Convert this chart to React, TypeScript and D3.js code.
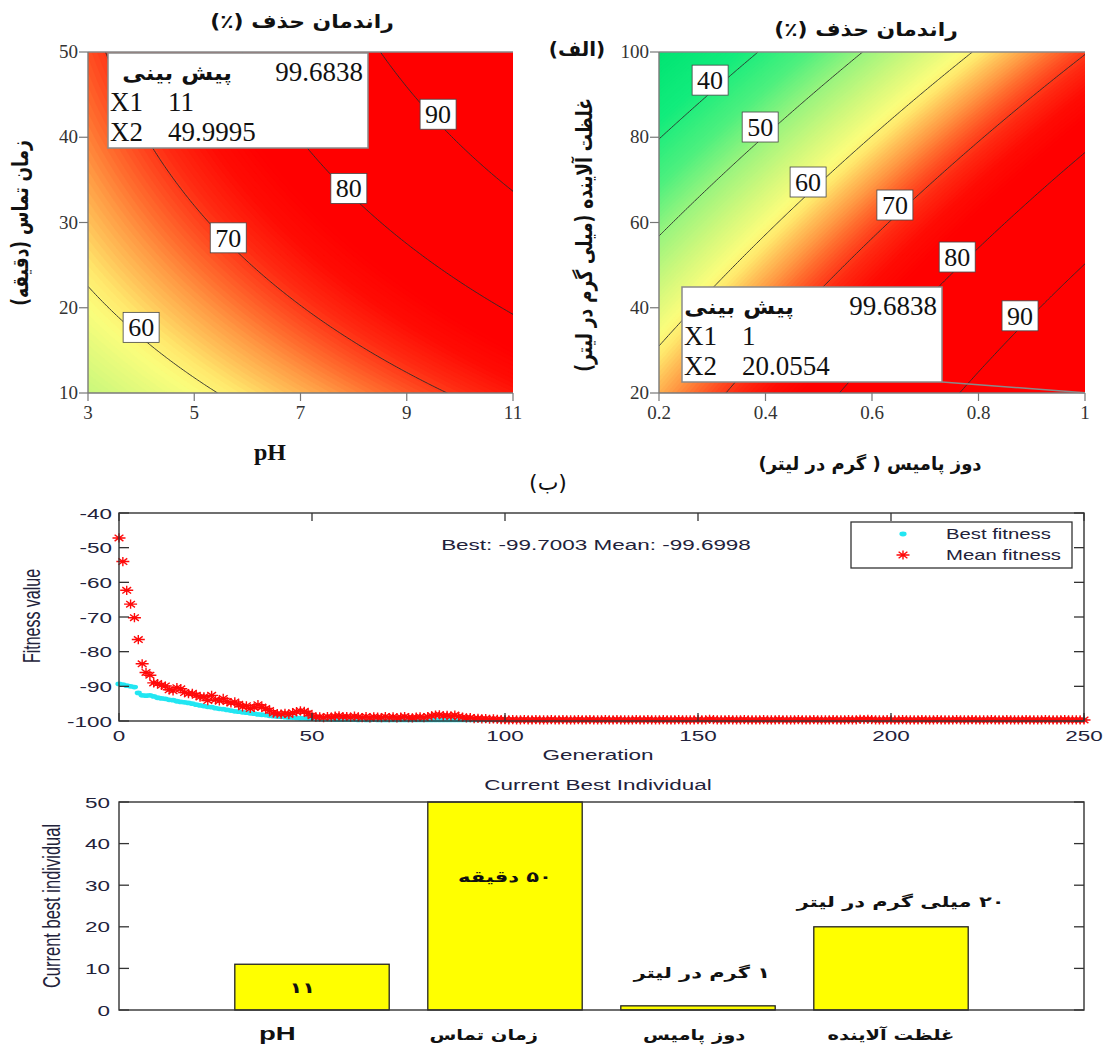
import React from "react";
import * as d3 from "d3";

// ---------------- DATA ----------------
// (الف) left: removal (%): [pH, contact time (min), removal %]
const phTimeContourPoints: number[][] = [
  [3.0, 22.5, 60], [4.0, 16.2, 60], [5.2, 10.0, 60],
  [4.2, 38.7, 70], [5.6, 28.3, 70], [7.05, 21.7, 70], [8.3, 16.2, 70], [9.45, 10.0, 70],
  [7.0, 38.7, 80], [7.9, 34.0, 80], [8.95, 27.1, 80], [10.2, 21.7, 80], [11.0, 19.3, 80],
  [8.3, 50.0, 90], [9.6, 43.0, 90], [11.0, 34.2, 90],
  [11.0, 50.0, 99.6838],
  [3.0, 10.0, 53.5], [3.0, 30.0, 64.3], [3.0, 40.0, 66.0], [3.0, 50.0, 68.0],
];
// (الف) right: [pumice dose (g/L), pollutant conc (mg/L), removal %]
const doseConcContourPoints: number[][] = [
  [0.2, 79.8, 40], [0.283, 88.7, 40], [0.385, 100, 40],
  [0.2, 57.0, 50], [0.475, 88.7, 50], [0.581, 100, 50],
  [0.2, 30.9, 60], [0.353, 51.2, 60], [0.67, 87.2, 60], [0.787, 100, 60],
  [0.324, 20, 70], [0.565, 51.2, 70], [1.0, 99.5, 70],
  [0.54, 20, 80], [0.76, 50.5, 80], [1.0, 76.3, 80],
  [0.767, 20, 90], [0.878, 36.5, 90], [1.0, 49.6, 90],
  [1.0, 20.0554, 99.6838],
];
const contourLevels = [40, 50, 60, 70, 80, 90];
const phTimeLabelSpots: number[][] = [[4.0, 17.7, 60], [5.64, 28.2, 70], [7.91, 34.0, 80], [9.59, 42.7, 90]];
const doseConcLabelSpots: number[][] = [[0.296, 93.4, 40], [0.39, 82.4, 50], [0.48, 69.5, 60], [0.643, 64.1, 70], [0.76, 51.9, 80], [0.878, 38.1, 90]];
const phTicks = [3, 5, 7, 9, 11];
const timeTicks = [10, 20, 30, 40, 50];
const doseTicks = [0.2, 0.4, 0.6, 0.8, 1];
const concTicks = [20, 40, 60, 80, 100];
const predictionLeft = ["99.6838", "11", "49.9995"];
const predictionRight = ["99.6838", "1", "20.0554"];

const colorStopValues = [30, 38, 45, 50, 55, 59, 61, 63, 65, 67, 69, 71, 74, 77, 100];
const colorStopColors = ["#00e472", "#12ec7c", "#4ef07e", "#98f47e", "#d0f87c", "#fafd7c", "#ffe86c", "#ffc058", "#ff9a44", "#ff7030", "#ff4a20", "#ff2a12", "#ff0c04", "#ff0000", "#ff0000"];

// (ب) GA run
const meanFitness = [
  -47.2, -54.0, -62.3, -66.3, -70.2, -76.5, -83.5, -86.0, -86.8, -89.0,
  -89.2, -89.7, -89.9, -91.0, -91.3, -90.4, -90.7, -91.8, -92.1, -92.0,
  -92.6, -93.1, -93.0, -94.1, -92.6, -93.9, -94.2, -93.5, -94.4, -94.8,
  -94.5, -95.2, -95.9, -95.6, -96.4, -96.1, -95.3, -96.0, -96.4, -97.0,
  -97.7, -97.9, -98.0, -97.8, -98.1, -97.6, -97.3, -97.1, -97.2, -97.8,
  -98.5, -98.9, -98.8, -99.0, -98.7, -98.9, -98.6, -98.5, -98.8, -98.7,
  -98.9, -98.6, -98.8, -99.0, -98.7, -99.1, -98.8, -98.9, -99.0, -98.7,
  -99.0, -98.8, -99.1, -98.9, -98.7, -99.0, -99.1, -98.9, -98.8, -99.0,
  -98.7, -98.5, -98.3, -98.2, -98.5, -98.4, -98.6, -98.3, -98.7, -98.9,
  -99.1, -99.0, -99.3, -99.2, -99.4, -99.3, -99.5, -99.4, -99.5, -99.6,
  -99.6, -99.7, -99.6, -99.7, -99.7, -99.6, -99.7, -99.7, -99.6, -99.7,
  -99.7, -99.7, -99.6, -99.7, -99.7, -99.6, -99.7, -99.7, -99.7, -99.6,
  -99.7, -99.7, -99.6, -99.7, -99.7, -99.7, -99.6, -99.7, -99.7, -99.6,
  -99.7, -99.7, -99.7, -99.7, -99.6, -99.7, -99.7, -99.6, -99.7, -99.7,
  -99.7, -99.6, -99.7, -99.7, -99.7, -99.6, -99.7, -99.7, -99.7, -99.7,
  -99.6, -99.7, -99.7, -99.5, -99.6, -99.7, -99.7, -99.7, -99.6, -99.7,
  -99.7, -99.7, -99.6, -99.7, -99.7, -99.7, -99.7, -99.6, -99.7, -99.7,
  -99.7, -99.6, -99.7, -99.7, -99.7, -99.7, -99.6, -99.7, -99.7, -99.7,
  -99.6, -99.7, -99.7, -99.7, -99.7, -99.6, -99.7, -99.7, -99.7, -99.6,
  -99.7, -99.7, -99.5, -99.6, -99.5, -99.6, -99.7, -99.7, -99.7, -99.6,
  -99.7, -99.7, -99.7, -99.6, -99.7, -99.7, -99.7, -99.7, -99.6, -99.7,
  -99.7, -99.7, -99.6, -99.7, -99.7, -99.7, -99.7, -99.6, -99.7, -99.7,
  -99.7, -99.6, -99.7, -99.7, -99.7, -99.7, -99.6, -99.7, -99.7, -99.7,
  -99.6, -99.7, -99.7, -99.7, -99.7, -99.6, -99.7, -99.7, -99.7, -99.7,
  -99.6, -99.7, -99.7, -99.7, -99.7, -99.6, -99.7, -99.7, -99.7, -99.7,
  -99.7,
];
const bestFitness = [
  -89.3, -89.5, -89.8, -90.0, -90.2, -91.9, -92.6, -92.7, -92.6, -92.9,
  -93.3, -93.5, -93.6, -93.9, -94.0, -94.3, -94.5, -94.6, -94.8, -95.0,
  -95.3, -95.5, -95.7, -95.9, -96.0, -96.3, -96.5, -96.6, -96.8, -97.0,
  -97.2, -97.3, -97.5, -97.6, -97.8, -97.9, -98.1, -98.2, -98.3, -98.5,
  -98.6, -98.7, -98.8, -98.9, -99.0, -99.0, -99.1, -99.2, -99.2, -99.3,
  -99.3, -99.4, -99.4, -99.5, -99.5, -99.5, -99.6, -99.6, -99.6, -99.6,
  -99.6, -99.6, -99.7, -99.6, -99.7, -99.7, -99.6, -99.7, -99.7, -99.7,
  -99.7, -99.7, -99.7, -99.7, -99.7, -99.7, -99.7, -99.7, -99.7, -99.7,
  -99.7, -99.7, -99.7, -99.7, -99.7, -99.7, -99.7, -99.7, -99.7, -99.7,
  -99.7, -99.7, -99.7, -99.7, -99.7, -99.7, -99.7, -99.7, -99.7, -99.7,
  -99.7, -99.7, -99.7, -99.7, -99.7, -99.7, -99.7, -99.7, -99.7, -99.7,
  -99.7, -99.7, -99.7, -99.7, -99.7, -99.7, -99.7, -99.7, -99.7, -99.7,
  -99.7, -99.7, -99.7, -99.7, -99.7, -99.7, -99.7, -99.7, -99.7, -99.7,
  -99.7, -99.7, -99.7, -99.7, -99.7, -99.7, -99.7, -99.7, -99.7, -99.7,
  -99.7, -99.7, -99.7, -99.7, -99.7, -99.7, -99.7, -99.7, -99.7, -99.7,
  -99.7, -99.7, -99.7, -99.7, -99.7, -99.7, -99.7, -99.7, -99.7, -99.7,
  -99.7, -99.7, -99.7, -99.7, -99.7, -99.7, -99.7, -99.7, -99.7, -99.7,
  -99.7, -99.7, -99.7, -99.7, -99.7, -99.7, -99.7, -99.7, -99.7, -99.7,
  -99.7, -99.7, -99.7, -99.7, -99.7, -99.7, -99.7, -99.7, -99.7, -99.7,
  -99.7, -99.7, -99.7, -99.7, -99.7, -99.7, -99.7, -99.7, -99.7, -99.7,
  -99.7, -99.7, -99.7, -99.7, -99.7, -99.7, -99.7, -99.7, -99.7, -99.7,
  -99.7, -99.7, -99.7, -99.7, -99.7, -99.7, -99.7, -99.7, -99.7, -99.7,
  -99.7, -99.7, -99.7, -99.7, -99.7, -99.7, -99.7, -99.7, -99.7, -99.7,
  -99.7, -99.7, -99.7, -99.7, -99.7, -99.7, -99.7, -99.7, -99.7, -99.7,
  -99.7, -99.7, -99.7, -99.7, -99.7, -99.7, -99.7, -99.7, -99.7, -99.7,
  -99.7,
];
const genTicks = [0, 50, 100, 150, 200, 250];
const fitnessTicks = [-100, -90, -80, -70, -60, -50, -40];

const barCategories = ["pH", "زمان تماس", "دوز پامیس", "غلظت آلاینده"];
const barValues = [11, 50, 1, 20];
const barNotes = ["۱۱", "۵۰ دقیقه", "۱ گرم در لیتر", "۲۰ میلی گرم در لیتر"];
const barTicks = [0, 10, 20, 30, 40, 50];

// ---------------- HELPERS ----------------
const SERIF = "'Liberation Serif', 'Times New Roman', serif";
const SANS = "'Liberation Sans', Arial, sans-serif";
const FA = "'DejaVu Sans', sans-serif";
const TXT = "#22223a";

function solve(A: number[][], b: number[]) {
  const n = b.length;
  const M = A.map((r, i) => [...r, b[i]]);
  for (let c = 0; c < n; c++) {
    let p = c;
    for (let r = c + 1; r < n; r++) if (Math.abs(M[r][c]) > Math.abs(M[p][c])) p = r;
    [M[c], M[p]] = [M[p], M[c]];
    for (let r = 0; r < n; r++) {
      if (r === c) continue;
      const f = M[r][c] / M[c][c];
      for (let k = c; k <= n; k++) M[r][k] -= f * M[c][k];
    }
  }
  return M.map((r, i) => r[n] / r[i]);
}

function fitSurface(points: number[][], xd: number[], yd: number[]) {
  const cx = (xd[0] + xd[1]) / 2, hx = (xd[1] - xd[0]) / 2;
  const cy = (yd[0] + yd[1]) / 2, hy = (yd[1] - yd[0]) / 2;
  const basis = (x: number, y: number) => {
    const a = (x - cx) / hx, b = (y - cy) / hy;
    return [1, a, b, a * b, a * a, b * b];
  };
  const A = Array.from({ length: 6 }, () => Array(6).fill(0));
  const B = Array(6).fill(0);
  points.forEach(([x, y, z]) => {
    const r = basis(x, y);
    for (let i = 0; i < 6; i++) {
      B[i] += r[i] * z;
      for (let j = 0; j < 6; j++) A[i][j] += r[i] * r[j];
    }
  });
  const c = solve(A, B);
  return (x: number, y: number) => basis(x, y).reduce((s, v, i) => s + v * c[i], 0);
}

const colorScale = d3.scaleLinear<string>().domain(colorStopValues).range(colorStopColors).interpolate(d3.interpolateRgb).clamp(true);

const SText = ({ x, y, s = 1, rot = 0, children, ...rest }: any) => (
  <g transform={`translate(${x},${y}) scale(${s},1)${rot ? ` rotate(${rot})` : ""}`}>
    <text x={0} y={0} {...rest}>{children}</text>
  </g>
);

// ---------------- CONTOUR PANEL ----------------
function ContourPanel({ cfg }: any) {
  const { id, x0, x1, yTop, yBot, xDomain, yDomain, points, xTicks, yTicks, labels, info, infoBox } = cfg;
  const sx = d3.scaleLinear().domain(xDomain).range([x0, x1]);
  const sy = d3.scaleLinear().domain(yDomain).range([yBot, yTop]);
  const surface = fitSurface(points, xDomain, yDomain);
  const nx = 180, ny = 150;
  const dx = (xDomain[1] - xDomain[0]) / (nx - 1), dy = (yDomain[1] - yDomain[0]) / (ny - 1);
  const values: number[] = new Array(nx * ny);
  for (let j = 0; j < ny; j++) for (let i = 0; i < nx; i++) values[i + j * nx] = surface(xDomain[0] + i * dx, yDomain[0] + j * dy);
  const [vmin, vmax] = d3.extent(values) as [number, number];
  const step = 0.4;
  const thr = d3.range(Math.floor(vmin) - 1, vmax, step);
  const bands = d3.contours().size([nx, ny]).thresholds(thr)(values);
  const lines = d3.contours().size([nx, ny]).thresholds(contourLevels)(values);
  const proj = d3.geoTransform({
    point: function (px: number, py: number) {
      (this as any).stream.point(sx(xDomain[0] + (px - 0.5) * dx), sy(yDomain[0] + (py - 0.5) * dy));
    },
  });
  const path = d3.geoPath(proj as any);
  const bx = infoBox.x, by = infoBox.y, bw = infoBox.w, bh = infoBox.h;
  return (
    <g>
      <defs>
        <clipPath id={`${id}clip`}><rect x={x0} y={yTop} width={x1 - x0} height={yBot - yTop} /></clipPath>
      </defs>
      <g clipPath={`url(#${id}clip)`}>
        {bands.map((b, k) => (
          <path key={k} d={path(b as any) || ""} fill={colorScale(b.value + step / 2)} stroke={colorScale(b.value + step / 2)} strokeWidth={0.4} />
        ))}
        {lines.map((l, k) => (
          <path key={k} d={path(l as any) || ""} fill="none" stroke="#2a2a2a" strokeWidth={0.9} />
        ))}
      </g>
      {/* axes */}
      <line x1={x0} x2={x1} y1={yTop} y2={yTop} stroke="#8a8a8a" strokeWidth={1.4} />
      <line x1={x0} x2={x0} y1={yTop} y2={yBot} stroke="#7a7a7a" strokeWidth={1.4} />
      <line x1={x0} x2={x1} y1={yBot} y2={yBot} stroke="#7a7a7a" strokeWidth={1.4} />
      {yTicks.map((t: number) => (
        <g key={t}>
          <line x1={x0 - 9} x2={x0} y1={sy(t)} y2={sy(t)} stroke="#777" strokeWidth={1.2} />
          <text x={x0 - 10} y={sy(t) + 6} textAnchor="end" fontFamily={SERIF} fontSize={19} fill="#333">{t}</text>
        </g>
      ))}
      {xTicks.map((t: number) => (
        <g key={t}>
          <line x1={sx(t)} x2={sx(t)} y1={yBot} y2={yBot + 8} stroke="#777" strokeWidth={1.2} />
          <text x={sx(t)} y={yBot + 26} textAnchor="middle" fontFamily={SERIF} fontSize={19} fill="#333">{String(t)}</text>
        </g>
      ))}
      {/* contour labels */}
      {labels.map(([lx, ly, lv]: number[]) => (
        <g key={lv}>
          <rect x={sx(lx) - 18} y={sy(ly) - 15} width={36} height={30} fill="#fff" stroke="#444" strokeWidth={0.8} />
          <text x={sx(lx)} y={sy(ly) + 9} textAnchor="middle" fontFamily={SERIF} fontSize={26} fill="#111">{lv}</text>
        </g>
      ))}
      {/* prediction box */}
      {infoBox.pointer && (
        <line x1={bx + bw} y1={by + bh} x2={sx(infoBox.pointer[0])} y2={sy(infoBox.pointer[1])} stroke="#8a8a8a" strokeWidth={1.4} />
      )}
      <rect x={bx} y={by} width={bw} height={bh} fill="#fff" stroke="#8a8a8a" strokeWidth={1.5} />
      <SText x={bx + infoBox.faEnd} y={by + 27} s={1.1} textAnchor="end" fontFamily={FA} fontWeight="bold" fontSize={21} fill="#111">پیش بینی</SText>
      <text x={bx + bw - 5} y={by + 28} textAnchor="end" fontFamily={SERIF} fontSize={27} fill="#111">{info[0]}</text>
      <text x={bx + 2} y={by + 58} fontFamily={SERIF} fontSize={27} fill="#111">X1</text>
      <text x={bx + 60} y={by + 58} fontFamily={SERIF} fontSize={27} fill="#111">{info[1]}</text>
      <text x={bx + 2} y={by + 88} fontFamily={SERIF} fontSize={27} fill="#111">X2</text>
      <text x={bx + 60} y={by + 88} fontFamily={SERIF} fontSize={27} fill="#111">{info[2]}</text>
    </g>
  );
}

// ---------------- FITNESS PANEL ----------------
function FitnessPanel() {
  const L = 119, R = 1084, T = 513, B = 721;
  const x = d3.scaleLinear().domain([0, 250]).range([L, R]);
  const y = d3.scaleLinear().domain([-100, -40]).range([B, T]);
  const star = "M-6.5,0H6.5M0,-4.6V4.6M-4.4,-3.2L4.4,3.2M-4.4,3.2L4.4,-3.2";
  const ST = 1.45;
  return (
    <g>
      <defs>
        <clipPath id="fitclip"><rect x={L - 8} y={T} width={R - L + 16} height={B - T + 6} /></clipPath>
      </defs>
      <rect x={L} y={T} width={R - L} height={B - T} fill="#fff" />
      <g clipPath="url(#fitclip)">
        {bestFitness.map((v, i) => (
          <ellipse key={i} cx={x(i)} cy={y(v)} rx={3.6} ry={2.4} fill="#22e6f2" />
        ))}
        {meanFitness.map((v, i) => (
          <path key={i} d={star} transform={`translate(${x(i)},${y(v)})`} stroke="#ff0a0a" strokeWidth={1.4} fill="none" />
        ))}
      </g>
      <rect x={L} y={T} width={R - L} height={B - T} fill="none" stroke="#333" strokeWidth={1.4} />
      {fitnessTicks.map((t) => (
        <g key={t}>
          <line x1={L} x2={L + 10} y1={y(t)} y2={y(t)} stroke="#333" strokeWidth={1.3} />
          <line x1={R - 10} x2={R} y1={y(t)} y2={y(t)} stroke="#333" strokeWidth={1.3} />
          <SText x={L - 7} y={y(t) + 5.5} s={ST} textAnchor="end" fontFamily={SANS} fontSize={15.5} fill={TXT}>{`-${Math.abs(t)}`}</SText>
        </g>
      ))}
      {genTicks.map((t) => (
        <g key={t}>
          <line x1={x(t)} x2={x(t)} y1={T} y2={T + 8} stroke="#333" strokeWidth={1.3} />
          <line x1={x(t)} x2={x(t)} y1={B - 8} y2={B} stroke="#333" strokeWidth={1.3} />
          <SText x={x(t)} y={B + 20} s={ST} textAnchor="middle" fontFamily={SANS} fontSize={15.5} fill={TXT}>{t}</SText>
        </g>
      ))}
      <SText x={598} y={760} s={ST} textAnchor="middle" fontFamily={SANS} fontSize={15.5} fill={TXT}>Generation</SText>
      <SText x={40} y={616} s={ST} rot={-90} textAnchor="middle" fontFamily={SANS} fontSize={16} fill={TXT}>Fitness value</SText>
      <SText x={596} y={550} s={ST} textAnchor="middle" fontFamily={SANS} fontSize={15.5} fill={TXT}>Best: -99.7003 Mean: -99.6998</SText>
      {/* legend */}
      <rect x={851} y={522} width={221} height={46} fill="#fff" stroke="#333" strokeWidth={1.3} />
      <ellipse cx={903} cy={534} rx={3.6} ry={2.4} fill="#22e6f2" />
      <path d={star} transform="translate(903,555)" stroke="#ff0a0a" strokeWidth={1.4} fill="none" />
      <SText x={946} y={539} s={ST} fontFamily={SANS} fontSize={14} fill={TXT}>Best fitness</SText>
      <SText x={946} y={560} s={ST} fontFamily={SANS} fontSize={14} fill={TXT}>Mean fitness</SText>
    </g>
  );
}

// ---------------- BAR PANEL ----------------
function BarPanel() {
  const L = 119, R = 1084, T = 802, B = 1010;
  const x = d3.scaleLinear().domain([0, 5]).range([L, R]);
  const y = d3.scaleLinear().domain([0, 50]).range([B, T]);
  const ST = 1.45;
  const noteAt = [[0.95, 5.4], [2.0, 32.2], [3.02, 8.9], [4.05, 26.0]];
  const catAt = [0.82, 1.89, 2.98, 4.0];
  return (
    <g>
      <SText x={598} y={790} s={ST} textAnchor="middle" fontFamily={SANS} fontSize={15.5} fill={TXT}>Current Best Individual</SText>
      <rect x={L} y={T} width={R - L} height={B - T} fill="#fff" />
      {barValues.map((v, i) => (
        <rect key={i} x={x(i + 1 - 0.4)} y={y(v)} width={x(0.8) - x(0)} height={B - y(v)} fill="#ffff00" stroke="#222" strokeWidth={1.3} />
      ))}
      <rect x={L} y={T} width={R - L} height={B - T} fill="none" stroke="#333" strokeWidth={1.4} />
      {barTicks.map((t) => (
        <g key={t}>
          <line x1={L} x2={L + 10} y1={y(t)} y2={y(t)} stroke="#333" strokeWidth={1.3} />
          <line x1={R - 10} x2={R} y1={y(t)} y2={y(t)} stroke="#333" strokeWidth={1.3} />
          <SText x={L - 9} y={y(t) + 5.5} s={ST} textAnchor="end" fontFamily={SANS} fontSize={15.5} fill={TXT}>{t}</SText>
        </g>
      ))}
      <SText x={60} y={906} s={ST} rot={-90} textAnchor="middle" fontFamily={SANS} fontSize={16.5} fill={TXT}>Current best individual</SText>
      {barNotes.map((n, i) => (
        <SText key={i} x={x(noteAt[i][0])} y={y(noteAt[i][1]) + 5.5} s={1.4} textAnchor="middle" direction="rtl" fontFamily={FA} fontWeight="bold" fontSize={15} fill="#111">{n}</SText>
      ))}
      {barCategories.map((c, i) => (
        <SText key={i} x={x(catAt[i])} y={1040} s={i === 0 ? 1.45 : 1.3} textAnchor="middle" direction={i === 0 ? "ltr" : "rtl"} fontFamily={i === 0 ? SANS : FA} fontWeight="bold" fontSize={i === 0 ? 19 : 15} fill="#111">{c}</SText>
      ))}
    </g>
  );
}

// ---------------- APP ----------------
const leftCfg = {
  id: "cl", x0: 88, x1: 513, yTop: 52, yBot: 393, xDomain: [3, 11], yDomain: [10, 50],
  points: phTimeContourPoints, xTicks: phTicks, yTicks: timeTicks, labels: phTimeLabelSpots, info: predictionLeft,
  infoBox: { x: 108, y: 53, w: 260, h: 95, faEnd: 124, pointer: null },
};
const rightCfg = {
  id: "cr", x0: 659, x1: 1085, yTop: 52, yBot: 393, xDomain: [0.2, 1], yDomain: [20, 100],
  points: doseConcContourPoints, xTicks: doseTicks, yTicks: concTicks, labels: doseConcLabelSpots, info: predictionRight,
  infoBox: { x: 682, y: 287, w: 260, h: 95, faEnd: 112, pointer: [1, 20.0554] },
};

export default function App() {
  return (
    <svg width={1105} height={1045} viewBox="0 0 1105 1045" style={{ position: "absolute", left: 0, top: 0, background: "#fff" }}>
      <rect width={1105} height={1045} fill="#fff" />
      <ContourPanel cfg={leftCfg} />
      <ContourPanel cfg={rightCfg} />
      {/* titles and axis titles of (الف) */}
      <SText x={302} y={28} s={1.15} textAnchor="middle" direction="rtl" fontFamily={FA} fontWeight="bold" fontSize={19} fill="#111">راندمان حذف (٪)</SText>
      <SText x={866} y={36} s={1.15} textAnchor="middle" direction="rtl" fontFamily={FA} fontWeight="bold" fontSize={19} fill="#111">راندمان حذف (٪)</SText>
      <SText x={28} y={223} s={1.3} rot={-90} textAnchor="middle" direction="rtl" fontFamily={FA} fontWeight="bold" fontSize={17} fill="#111">زمان تماس (دقیقه)</SText>
      <SText x={592} y={235} s={1.3} rot={-90} textAnchor="middle" direction="rtl" fontFamily={FA} fontWeight="bold" fontSize={17} fill="#111">غلظت آلاینده (میلی گرم در لیتر)</SText>
      <text x={270} y={460} textAnchor="middle" fontFamily={SERIF} fontWeight="bold" fontSize={24} fill="#111">pH</text>
      <text x={870} y={470} textAnchor="middle" direction="rtl" fontFamily={FA} fontWeight="bold" fontSize={18} fill="#111">دوز پامیس ( گرم در لیتر)</text>
      <text x={577} y={56} textAnchor="middle" direction="rtl" fontFamily={FA} fontWeight="bold" fontSize={20} fill="#111">(الف)</text>
      <text x={548} y={490} textAnchor="middle" direction="rtl" fontFamily={FA} fontSize={22} fill="#111">(ب)</text>
      <FitnessPanel />
      <BarPanel />
    </svg>
  );
}
